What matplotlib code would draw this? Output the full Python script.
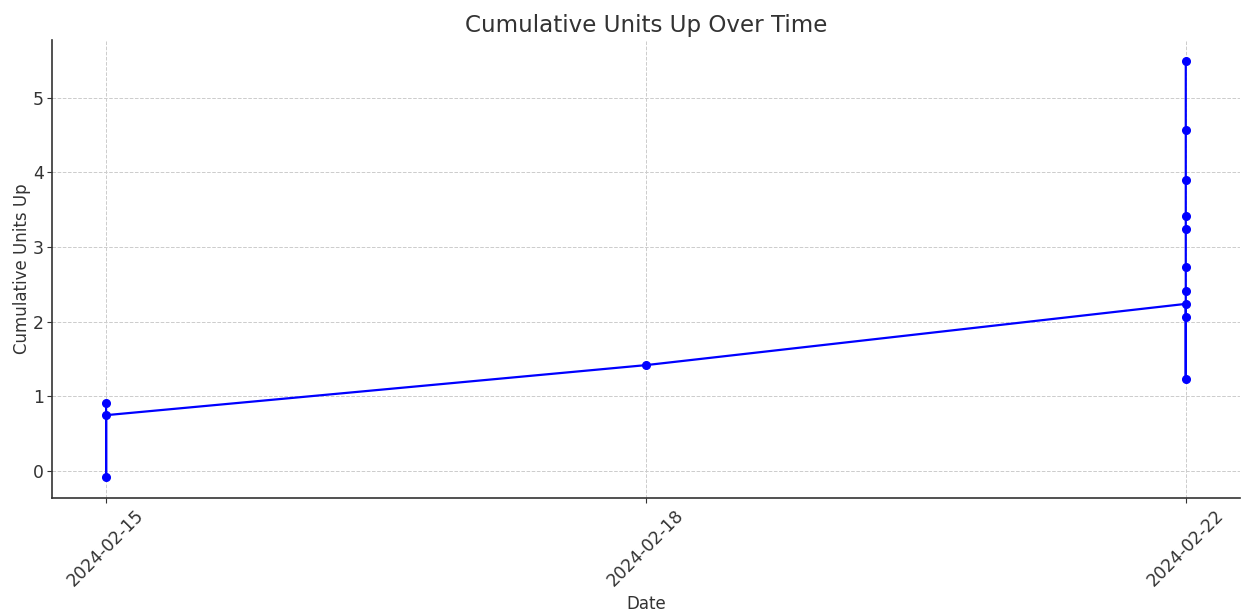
import matplotlib
matplotlib.use("Agg")
import matplotlib.pyplot as plt

# cumulative units up, in the order the rows were plotted
dates = ["2024-02-15", "2024-02-15", "2024-02-15",
         "2024-02-18",
         "2024-02-22", "2024-02-22", "2024-02-22", "2024-02-22", "2024-02-22",
         "2024-02-22", "2024-02-22", "2024-02-22", "2024-02-22", "2024-02-22"]
cum_units = [0.91, -0.08, 0.75,
             1.42,
             2.24, 2.07, 1.24, 2.41, 2.74, 3.24, 3.41, 3.90, 4.57, 5.49]

text_col = "#333333"
plt.rcParams["font.family"] = "DejaVu Sans"

fig, ax = plt.subplots(figsize=(12.41, 6.11), dpi=100)
fig.subplots_adjust(left=0.042, right=0.999, top=0.934, bottom=0.185)

ax.plot(dates, cum_units, marker="o", color="blue", linewidth=1.6, markersize=5.5)

ax.set_title("Cumulative Units Up Over Time", fontsize=16.6, color=text_col)
ax.set_xlabel("Date", fontsize=12, color=text_col)
ax.set_ylabel("Cumulative Units Up", fontsize=12, color=text_col, labelpad=1)

ax.tick_params(axis="both", labelsize=12.4, colors=text_col, length=3.5, pad=2.5)
plt.setp(ax.get_xticklabels(), rotation=45)
ax.grid(True, linestyle="--", color="#cccccc", linewidth=0.7)
for side in ["top", "right"]:
    ax.spines[side].set_visible(False)
for side in ["left", "bottom"]:
    ax.spines[side].set_color(text_col)
    ax.spines[side].set_linewidth(1.2)

fig.savefig("out.png", dpi=100)
